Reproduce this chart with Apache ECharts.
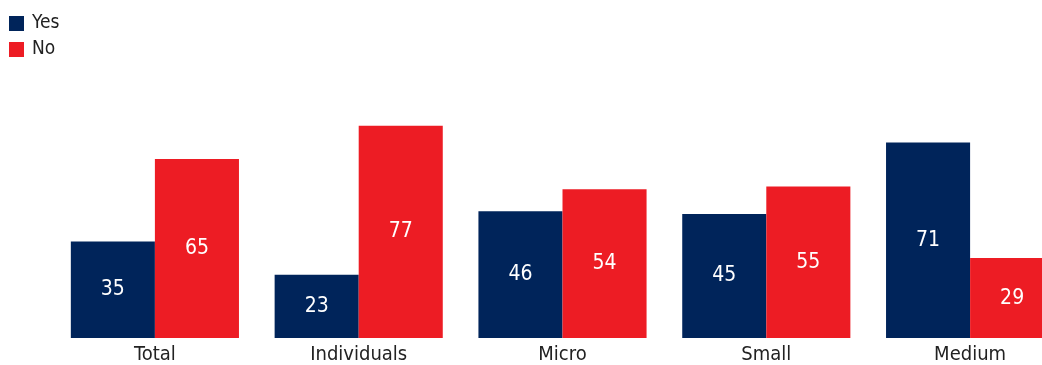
<!DOCTYPE html>
<html>
<head>
<meta charset="utf-8">
<script src="https://cdn.jsdelivr.net/npm/echarts@6/dist/echarts.min.js"></script>
<style>
  html, body { margin: 0; padding: 0; background: #fff; overflow: hidden; }
  #wrap { width: 1042px; height: 365px; overflow: hidden; }
  /* the plot runs past the right edge, so the last bar is cut off */
  #chart { width: 1072px; height: 365px; }
</style>
</head>
<body>
<div id="wrap"><div id="chart"></div></div>
<script>
// Share of respondents answering Yes / No, by group (%)
const categories = ['Total', 'Individuals', 'Micro', 'Small', 'Medium'];
const yesValues = [35, 23, 46, 45, 71];
const noValues = [65, 77, 54, 55, 29];

const FONT = "'DejaVu Sans Condensed', 'Liberation Sans Narrow', sans-serif";
const NAVY = '#00245a';
const RED = '#ed1c24';

const chart = echarts.init(document.getElementById('chart'), null, { renderer: 'canvas' });

const valueLabel = {
  show: true,
  position: 'inside',
  color: '#ffffff',
  fontFamily: FONT,
  fontSize: 21
};

chart.setOption({
  animation: false,
  backgroundColor: '#ffffff',
  legend: {
    orient: 'vertical',
    left: 4,
    top: 9,
    itemWidth: 15,
    itemHeight: 15,
    itemGap: 7,
    icon: 'rect',
    textStyle: { fontFamily: FONT, fontSize: 19, color: '#222', padding: [0, 0, 0, 3] },
    data: ['Yes', 'No']
  },
  grid: { left: 53, top: 62.5, right: 0, height: 275.5, containLabel: false },
  xAxis: {
    type: 'category',
    data: categories,
    axisLine: { show: false },
    axisTick: { show: false },
    axisLabel: { fontFamily: FONT, fontSize: 20, color: '#222', margin: 7 }
  },
  yAxis: {
    type: 'value',
    min: 0,
    max: 100,
    show: false,
    splitLine: { show: false }
  },
  series: [
    {
      name: 'Yes',
      type: 'bar',
      data: yesValues,
      itemStyle: { color: NAVY },
      barGap: '0%',
      barCategoryGap: '17.5%',
      label: valueLabel
    },
    {
      name: 'No',
      type: 'bar',
      data: noValues,
      itemStyle: { color: RED },
      barGap: '0%',
      barCategoryGap: '17.5%',
      label: valueLabel
    }
  ]
});
</script>
</body>
</html>
